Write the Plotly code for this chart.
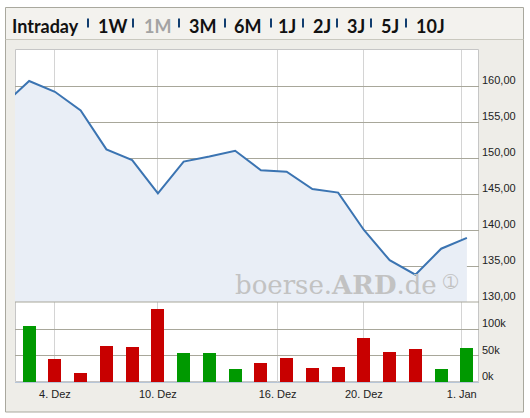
import plotly.graph_objects as go

# Handelstage (Index 0 = 3. Dez), Kurs mit einem Vortag am Anfang
handelstage = ["03.12", "04.12", "05.12", "06.12", "07.12", "10.12", "11.12", "12.12",
               "13.12", "14.12", "17.12", "18.12", "19.12", "20.12", "21.12", "27.12",
               "28.12", "02.01"]
kurs_x = list(range(-1, len(handelstage)))
kurs = [157.4, 160.7, 159.2, 156.6, 151.2, 149.7, 145.1, 149.5, 150.2, 151.0,
        148.3, 148.1, 145.7, 145.2, 140.0, 135.8, 133.8, 137.4, 138.9]
volumen = [107000, 43600, 16700, 68600, 66700, 138000, 55200, 55200, 24400, 36000,
           45600, 26300, 28300, 84000, 57000, 62900, 24400, 64800]

tick_pos = [1, 5, 9.65, 13, 16.8]
tick_text = ["4. Dez", "10. Dez", "16. Dez", "20. Dez", "1. Jan"]
kurs_ticks = [130, 135, 140, 145, 150, 155, 160]
vol_ticks = [0, 50000, 100000]
vol_text = ["0k", "50k", "100k"]

tabs = ["Intraday", "1W", "1M", "3M", "6M", "1J", "2J", "3J", "5J", "10J"]
tab_x = [10, 96, 142, 187, 232, 276, 311, 345, 379, 414]
sep_x = [88, 133, 179, 225, 271, 303, 337, 371, 406]

W, H = 530, 418
L, R, T, B = 15, 51, 50, 36

def fx(px):
    return (px - L) / (W - L - R)

def fy(py):
    return (H - B - py) / (H - T - B)

split = fy(302)

x_vol = list(range(len(volumen)))
farben = []
for i in range(len(volumen)):
    farben.append("#009900" if kurs[i + 1] >= kurs[i] else "#c80000")

fig = go.Figure()
fig.add_trace(go.Scatter(x=kurs_x, y=kurs, mode="lines", fill="tozeroy",
                         fillcolor="#e9eef6", line=dict(color="#3b74b2", width=2),
                         xaxis="x", yaxis="y", hoverinfo="skip"))
fig.add_trace(go.Bar(x=x_vol, y=volumen, marker=dict(color=farben, line=dict(width=0)),
                     width=0.5, xaxis="x2", yaxis="y2", hoverinfo="skip"))

grid_h = "#a8a79a"
grid_v = "#d4d4d4"
achsen_font = dict(family="Liberation Sans, Arial", size=11, color="#222222")

fig.update_layout(
    width=W, height=H,
    margin=dict(l=L, r=R, t=T, b=B),
    paper_bgcolor="white",
    plot_bgcolor="rgba(0,0,0,0)",
    separators=",.",
    showlegend=False,
    bargap=0,
    xaxis=dict(domain=[0, 1], anchor="y", matches="x2", range=[-0.55, 17.47],
               tickvals=tick_pos, showticklabels=False, showgrid=True,
               gridcolor=grid_v, gridwidth=1, zeroline=False, showline=False),
    xaxis2=dict(domain=[0, 1], anchor="y2", range=[-0.55, 17.47],
                tickvals=tick_pos, ticktext=tick_text, showgrid=True,
                gridcolor=grid_v, gridwidth=1, zeroline=False,
                showline=True, linecolor="#b7c6d8", linewidth=1,
                ticks="", tickfont=achsen_font, ticklabelstandoff=2),
    yaxis=dict(domain=[split, 1], anchor="x", side="right", range=[130, 165],
               tickvals=kurs_ticks, tickformat=".2f", showgrid=True,
               gridcolor=grid_h, gridwidth=1, zeroline=False, showline=False,
               ticks="", tickfont=achsen_font, ticklabelstandoff=2,
               ticklabelshift=-6),
    yaxis2=dict(domain=[0, split], anchor="x2", side="right", range=[0, 152000],
                tickvals=vol_ticks, ticktext=vol_text, showgrid=True,
                gridcolor=grid_h, gridwidth=1, zeroline=False, showline=False,
                ticks="", tickfont=achsen_font, ticklabelstandoff=2,
                ticklabelshift=-6),
)

shapes = [
    # Rahmen
    dict(type="rect", xref="paper", yref="paper", x0=fx(5.5), x1=fx(523.5),
         y0=fy(412), y1=fy(7.5), fillcolor="#eeede8",
         line=dict(color="#a9a89e", width=1), layer="below"),
    dict(type="rect", xref="paper", yref="paper", x0=fx(6), x1=fx(523),
         y0=fy(39), y1=fy(8), fillcolor="#f3f2ee",
         line=dict(width=0), layer="below"),
    dict(type="line", xref="paper", yref="paper", x0=fx(5.5), x1=fx(523.5),
         y0=fy(39.5), y1=fy(39.5), line=dict(color="#c9c8be", width=1), layer="below"),
    # Plotflaeche
    dict(type="rect", xref="paper", yref="paper", x0=fx(15.5), x1=fx(478.5),
         y0=fy(381.5), y1=fy(49.5), fillcolor="white",
         line=dict(color="#c6c6c6", width=1), layer="below"),
    dict(type="line", xref="paper", yref="paper", x0=0, x1=1,
         y0=split, y1=split, line=dict(color=grid_h, width=1)),
]
for sx in sep_x:
    shapes.append(dict(type="line", xref="paper", yref="paper", x0=fx(sx), x1=fx(sx),
                       y0=fy(27.5), y1=fy(18.5), line=dict(color="#123e70", width=2)))
fig.update_layout(shapes=shapes)

annos = []
for t, tx in zip(tabs, tab_x):
    annos.append(dict(text="<b>%s</b>" % t, x=fx(tx), y=fy(26), xref="paper", yref="paper",
                      xanchor="left", yanchor="middle", showarrow=False,
                      font=dict(family="Lato", size=18,
                                color="#a3a3a3" if t == "1M" else "#111111")))
# Wasserzeichen
annos.append(dict(text="boerse.<b>ARD</b>.de", x=fx(233), y=fy(285), xref="paper",
                  yref="paper", xanchor="left", yanchor="middle", showarrow=False,
                  font=dict(family="DejaVu Serif", size=26, color="#c2c2c2")))
annos.append(dict(text="➀", x=fx(450), y=fy(281), xref="paper", yref="paper",
                  xanchor="center", yanchor="middle", showarrow=False,
                  font=dict(family="DejaVu Sans", size=18, color="#c2c2c2")))
fig.update_layout(annotations=annos)

# Seitenrand des Browsers entfernen, damit die Grafik bei 0,0 beginnt
fig.write_html("out.html", config={"displayModeBar": False},
               post_script="document.body.style.margin='0px';")
